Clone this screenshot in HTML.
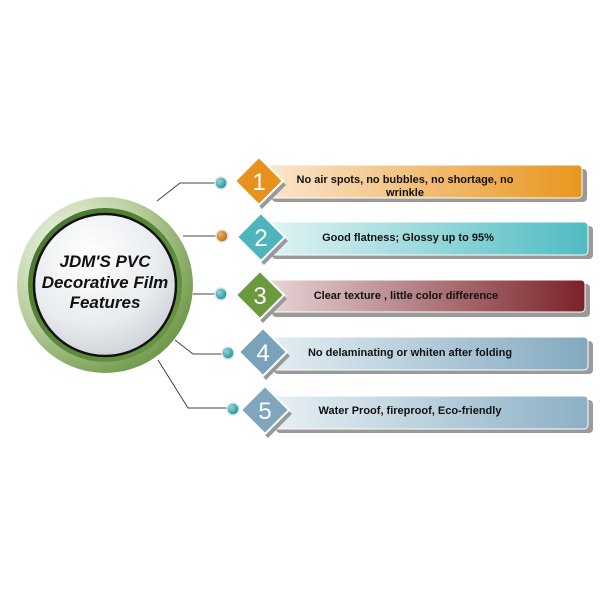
<!DOCTYPE html>
<html><head><meta charset="utf-8"><style>
html,body{margin:0;padding:0;background:#fff;}
svg{display:block;font-family:"Liberation Sans",Arial,sans-serif;}
</style></head><body>
<svg width="600" height="600" viewBox="0 0 600 600" xmlns="http://www.w3.org/2000/svg">
<defs>
<radialGradient id="outer" cx="0.3" cy="0.3" r="0.8">
<stop offset="0" stop-color="#f4f7ef"/><stop offset="0.55" stop-color="#b9cf9f"/><stop offset="1" stop-color="#6a9544"/>
</radialGradient>
<linearGradient id="ring" x1="0" y1="0" x2="1" y2="1">
<stop offset="0" stop-color="#44722a"/><stop offset="1" stop-color="#6e9a45"/>
</linearGradient>
<radialGradient id="inner" cx="0.4" cy="0.3" r="0.8">
<stop offset="0" stop-color="#ffffff"/><stop offset="0.6" stop-color="#e8ecef"/><stop offset="1" stop-color="#c4cbd1"/>
</radialGradient>
<linearGradient id="g1" x1="0" x2="1"><stop offset="0" stop-color="#fbe6cf"/><stop offset="1" stop-color="#e8961e"/></linearGradient>
<linearGradient id="g2" x1="0" x2="1"><stop offset="0" stop-color="#e2f4f5"/><stop offset="1" stop-color="#4fbcc2"/></linearGradient>
<linearGradient id="g3" x1="0" x2="1"><stop offset="0" stop-color="#e8d6d8"/><stop offset="1" stop-color="#7a2228"/></linearGradient>
<linearGradient id="g4" x1="0" x2="1"><stop offset="0" stop-color="#e5eef4"/><stop offset="1" stop-color="#82a9bf"/></linearGradient>
<linearGradient id="g5" x1="0" x2="1"><stop offset="0" stop-color="#e8f0f5"/><stop offset="1" stop-color="#8cb0c4"/></linearGradient>
<radialGradient id="dotT" cx="0.35" cy="0.35" r="0.7"><stop offset="0" stop-color="#8fd7d8"/><stop offset="1" stop-color="#1f8d92"/></radialGradient>
<radialGradient id="dotO" cx="0.35" cy="0.35" r="0.7"><stop offset="0" stop-color="#f0b060"/><stop offset="1" stop-color="#b86a0a"/></radialGradient>
</defs>

<g stroke="#444" stroke-width="1" fill="none">
<polyline points="157,201 180,183 221,183"/>
<polyline points="183,236 222,236"/>
<polyline points="193,294 221,294"/>
<polyline points="175,340 193,354 228,354"/>
<polyline points="158,360 188,408 233,408"/>
</g>

<circle cx="105" cy="285" r="88" fill="url(#outer)"/>
<circle cx="105" cy="285" r="77" fill="url(#ring)"/>
<circle cx="105" cy="285" r="71" fill="url(#inner)" stroke="#111" stroke-width="2.5"/>
<g font-weight="bold" font-style="italic" font-size="17" fill="#111" text-anchor="middle">
<text x="105" y="267">JDM'S PVC</text>
<text x="105" y="288">Decorative Film</text>
<text x="105" y="308">Features</text>
</g>

<g>
<rect x="272" y="169" width="315" height="33" rx="4" fill="#9a9a9a"/>
<rect x="266" y="165" width="316" height="33" rx="4" fill="url(#g1)" stroke="#fff" stroke-width="1"/>
<rect x="272" y="226" width="321" height="33" rx="4" fill="#9a9a9a"/>
<rect x="266" y="222" width="322" height="33" rx="4" fill="url(#g2)" stroke="#fff" stroke-width="1"/>
<rect x="272" y="284" width="318" height="33" rx="4" fill="#9a9a9a"/>
<rect x="266" y="280" width="319" height="32" rx="4" fill="url(#g3)" stroke="#fff" stroke-width="1"/>
<rect x="274" y="341" width="319" height="33" rx="4" fill="#9a9a9a"/>
<rect x="268" y="337" width="320" height="33" rx="4" fill="url(#g4)" stroke="#fff" stroke-width="1"/>
<rect x="276" y="400" width="317" height="33" rx="4" fill="#9a9a9a"/>
<rect x="270" y="396" width="318" height="33" rx="4" fill="url(#g5)" stroke="#fff" stroke-width="1"/>
</g>

<g font-weight="bold" font-size="11" fill="#111" text-anchor="middle">
<text x="405" y="183">No air spots, no bubbles, no shortage, no</text>
<text x="405" y="196">wrinkle</text>
<text x="408" y="241">Good flatness; Glossy up to 95%</text>
<text x="406" y="299">Clear texture , little color difference</text>
<text x="410" y="356">No delaminating or whiten after folding</text>
<text x="410" y="414">Water Proof, fireproof, Eco-friendly</text>
</g>

<g stroke="#fff" stroke-width="2">
<polygon points="262,161 286,185 262,209 238,185" fill="#999" stroke="none"/>
<polygon points="259,157 283,181 259,205 235,181" fill="#e8921e"/>
<polygon points="264,217 288,241 264,265 240,241" fill="#999" stroke="none"/>
<polygon points="261,213 285,237 261,261 237,237" fill="#4fb5bd"/>
<polygon points="263,275 287,299 263,323 239,299" fill="#999" stroke="none"/>
<polygon points="260,271 284,295 260,319 236,295" fill="#6a9a3e"/>
<polygon points="266,332 290,356 266,380 242,356" fill="#999" stroke="none"/>
<polygon points="263,328 287,352 263,376 239,352" fill="#7aa3bb"/>
<polygon points="268,390 292,414 268,438 244,414" fill="#999" stroke="none"/>
<polygon points="265,386 289,410 265,434 241,410" fill="#7fa6bd"/>
</g>
<g font-size="24" fill="#fff" text-anchor="middle">
<text x="259" y="190">1</text>
<text x="261" y="246">2</text>
<text x="260" y="304">3</text>
<text x="263" y="361">4</text>
<text x="265" y="419">5</text>
</g>

<g stroke="#d8e4ea" stroke-width="1.5">
<circle cx="221" cy="183" r="6" fill="url(#dotT)"/>
<circle cx="222" cy="236" r="6" fill="url(#dotO)"/>
<circle cx="221" cy="294" r="6" fill="url(#dotT)"/>
<circle cx="228" cy="353" r="6" fill="url(#dotT)"/>
<circle cx="233" cy="409" r="6" fill="url(#dotT)"/>
</g>
</svg>
</body></html>
